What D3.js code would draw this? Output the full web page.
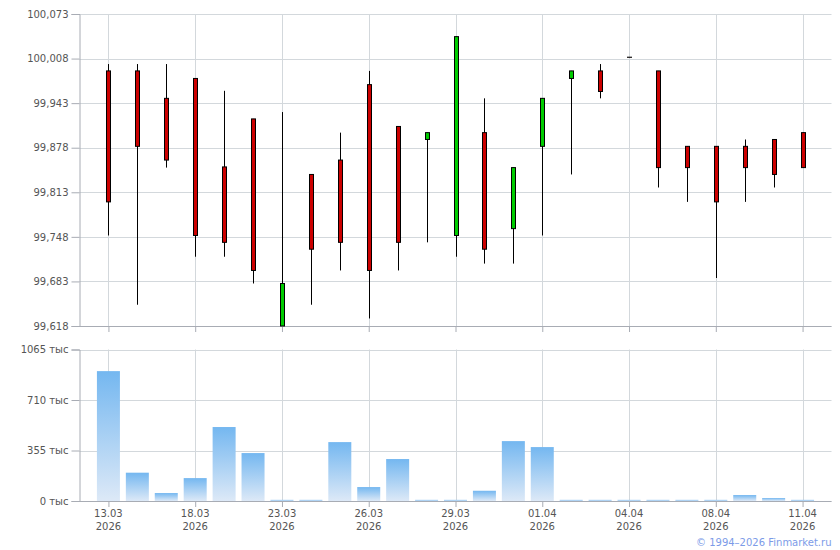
<!DOCTYPE html>
<html>
<head>
<meta charset="utf-8">
<script src="https://cdn.jsdelivr.net/npm/d3@7"></script>
<style>
  body { margin: 0; background: #fff; }
  text { font-family: Verdana, "DejaVu Sans", sans-serif; }
</style>
</head>
<body>
<div id="chart-area"></div>
<script>
// dates for each trading slot
const dates = ["13.03", "16.03", "17.03", "18.03", "19.03", "20.03", "23.03", "24.03", "25.03",
  "26.03", "27.03", "28.03", "29.03", "30.03", "31.03", "01.04", "02.04", "03.04", "04.04",
  "06.04", "07.04", "08.04", "09.04", "10.04", "11.04"]
const year = "2026"

// OHLC
const open  = [99.990, 99.990, 99.950, 99.979, 99.850, 99.920, 99.618, 99.839, 99.860, 99.970,
  99.909, 99.890, 99.750, 99.900, 99.760, 99.880, 99.979, 99.990, 100.010, 99.990, 99.880,
  99.880, 99.880, 99.890, 99.900]
const close = [99.799, 99.880, 99.860, 99.750, 99.740, 99.699, 99.680, 99.730, 99.740, 99.699,
  99.740, 99.900, 100.040, 99.730, 99.849, 99.950, 99.990, 99.960, 100.010, 99.849, 99.849,
  99.799, 99.849, 99.839, 99.849]
const high  = [100.000, 100.000, 100.000, 99.979, 99.961, 99.920, 99.930, 99.839, 99.900, 99.990,
  99.909, 99.900, 100.040, 99.950, 99.849, 99.950, 99.990, 100.000, 100.010, 99.990, 99.880,
  99.880, 99.890, 99.890, 99.900]
const low   = [99.750, 99.649, 99.849, 99.719, 99.719, 99.680, 99.618, 99.649, 99.699, 99.629,
  99.699, 99.740, 99.719, 99.709, 99.709, 99.750, 99.839, 99.950, 100.010, 99.820, 99.799,
  99.688, 99.799, 99.820, 99.849]

// volume, thousands
const volume = [913, 199, 56, 161, 520, 337, 8, 8, 414, 98, 295, 8, 8, 72, 421, 379,
  8, 8, 8, 8, 8, 8, 42, 21, 8]

const priceTicks = [99.618, 99.683, 99.748, 99.813, 99.878, 99.943, 100.008, 100.073]
const volTicks = [0, 355, 710, 1065]
const labelEvery = 3

const W = 840, H = 550
const LEFT = 79.5, RIGHT = 831.5
const TOP1 = 14, BOT1 = 326
const TOP2 = 349.5, BOT2 = 501

const svg = d3.select("#chart-area").append("svg")
  .attr("width", W)
  .attr("height", H)

const x = d3.scaleLinear().domain([-1, dates.length]).range([LEFT, RIGHT])
const y = d3.scaleLinear().domain([99.618, 100.073]).range([BOT1, TOP1])
const yv = d3.scaleLinear().domain([0, 1065]).range([BOT2, TOP2])

const fmtPrice = v => d3.format(".3f")(v).replace(".", ",")
const gridColor = "#d3d8dc"
const axisColor = "#a8acb4"
const textColor = "#555"
const idx = d3.range(dates.length)
const labelIdx = idx.filter(i => i % labelEvery === 0)

// gradient for volume bars
const grad = svg.append("defs").append("linearGradient")
  .attr("id", "volGrad")
  .attr("x1", 0).attr("y1", 0).attr("x2", 0).attr("y2", 1)
grad.append("stop").attr("offset", "0%").attr("stop-color", "#74b7f0")
grad.append("stop").attr("offset", "100%").attr("stop-color", "#dde9f7")

function drawPanel(scale, ticks, fmt, top, bottom) {
  const g = svg.append("g")
  // horizontal grid
  g.selectAll(".hgrid").data(ticks).enter().append("line")
    .attr("x1", LEFT).attr("x2", RIGHT)
    .attr("y1", d => Math.round(scale(d)) + 0.5)
    .attr("y2", d => Math.round(scale(d)) + 0.5)
    .attr("stroke", gridColor)
  // vertical grid
  g.selectAll(".vgrid").data(labelIdx).enter().append("line")
    .attr("x1", d => Math.round(x(d)) + 0.5).attr("x2", d => Math.round(x(d)) + 0.5)
    .attr("y1", top).attr("y2", bottom)
    .attr("stroke", gridColor)
  // y axis
  const yAxis = g.append("g")
    .attr("transform", `translate(${LEFT},0)`)
    .call(d3.axisLeft(scale).tickValues(ticks).tickFormat(fmt).tickSize(8).tickPadding(3))
  yAxis.select(".domain").attr("stroke", axisColor)
  yAxis.selectAll(".tick line").attr("stroke", axisColor)
  yAxis.selectAll(".tick text").attr("fill", textColor).style("font-size", "10px")
    .style("font-family", "Verdana, 'DejaVu Sans', sans-serif")
  // x axis
  const xAxis = g.append("g")
    .attr("transform", `translate(0,${bottom})`)
    .call(d3.axisBottom(x).tickValues(labelIdx).tickFormat("").tickSize(6).tickSizeOuter(0))
  xAxis.select(".domain").attr("stroke", axisColor).attr("d", `M${LEFT},0.5H${RIGHT}`)
  xAxis.selectAll(".tick line").attr("stroke", axisColor)
  return g
}

drawPanel(y, priceTicks, fmtPrice, TOP1, BOT1)
drawPanel(yv, volTicks, d => d + " тыс", TOP2, BOT2)

// volume bars
const barW = 23
svg.append("g").selectAll("rect").data(idx).enter().append("rect")
  .attr("x", i => x(i) - barW / 2)
  .attr("y", i => yv(volume[i]))
  .attr("width", barW)
  .attr("height", i => BOT2 - yv(volume[i]))
  .attr("fill", "url(#volGrad)")

// candles
const candles = svg.append("g")
candles.selectAll(".wick").data(idx).enter().append("line")
  .attr("x1", i => Math.round(x(i)) + 0.5)
  .attr("x2", i => Math.round(x(i)) + 0.5)
  .attr("y1", i => y(high[i]))
  .attr("y2", i => y(low[i]))
  .attr("stroke", "#000")
  .attr("stroke-width", 1)

// flat candles (open == close) still show as a short dash
const bodyW = 4
candles.selectAll(".body").data(idx).enter().append("rect")
  .attr("x", i => Math.round(x(i)) - bodyW / 2 + 0.5)
  .attr("y", i => y(Math.max(open[i], close[i])))
  .attr("width", bodyW)
  .attr("height", i => Math.max(0.1, Math.abs(y(open[i]) - y(close[i]))))
  .attr("fill", i => close[i] > open[i] ? "#00cc00" : "#cc0000")
  .attr("stroke", "#000")
  .attr("stroke-width", 1)

// date labels
const lbl = svg.append("g").selectAll("text").data(labelIdx).enter().append("text")
  .attr("x", i => x(i))
  .attr("y", 517)
  .attr("text-anchor", "middle")
  .attr("fill", textColor)
  .style("font-size", "10px")
lbl.append("tspan").attr("x", i => x(i)).text(i => dates[i])
lbl.append("tspan").attr("x", i => x(i)).attr("dy", 12.5).text(year)

// footer
svg.append("text")
  .attr("x", RIGHT)
  .attr("y", 546)
  .attr("text-anchor", "end")
  .attr("fill", "#7c9be8")
  .style("font-size", "10px")
  .text("© 1994–2026 Finmarket.ru")
</script>
</body>
</html>
